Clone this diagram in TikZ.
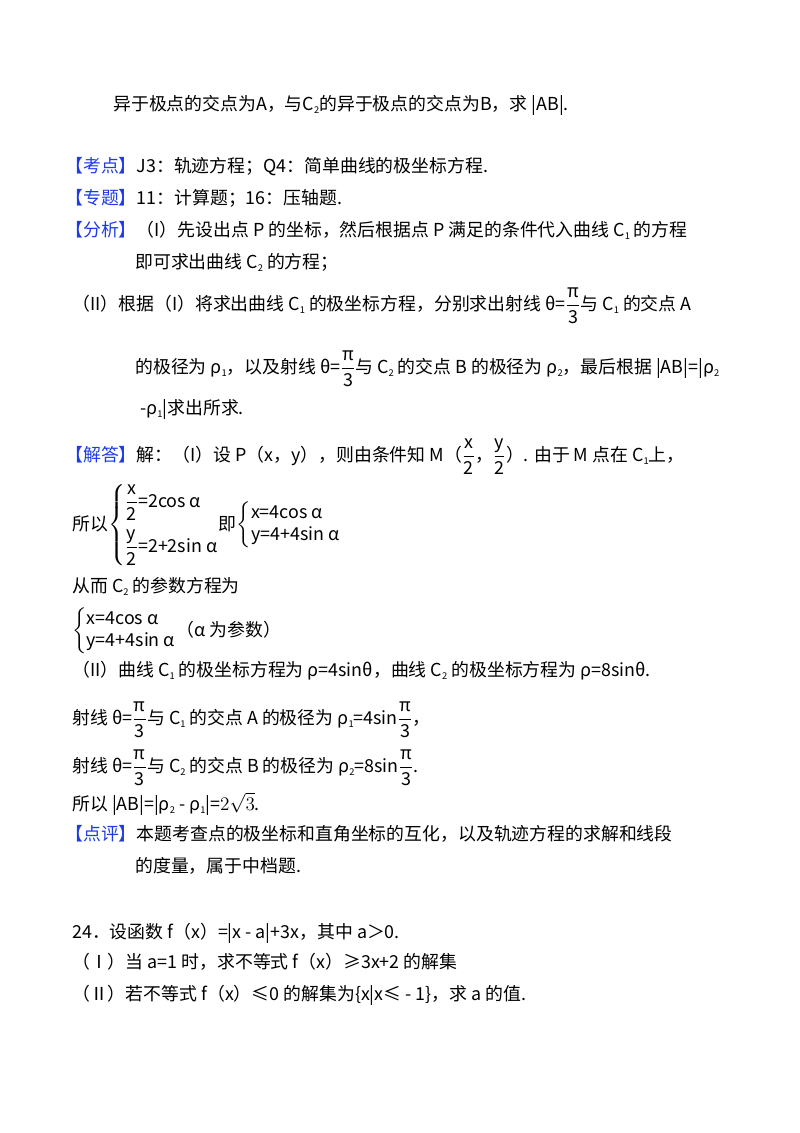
\documentclass[tikz,border=0pt]{standalone}
\usepackage{amsmath}
\usepackage{fontspec}
\setmainfont{Noto Sans CJK SC}
\definecolor{kblue}{RGB}{30,60,230}
\newcommand{\sbt}[1]{\raisebox{-0.35ex}{\scriptsize #1}}
\newcommand{\fr}[2]{$\displaystyle\frac{\hbox{#1}}{\hbox{#2}}$}
\newcommand{\tg}[1]{\textcolor{kblue}{【#1】}}
\begin{document}
\begin{tikzpicture}[x=0.75pt,y=-0.75pt,
  ln/.style={anchor=base west,inner sep=0pt,font=\fontsize{13.4}{16}\selectfont}]
\useasboundingbox (0,0) rectangle (800,1133);
\fill[white] (0,0) rectangle (800,1133);
\node[ln] (l1) at (113,110) {异于极点的交点为A，与C\sbt{2}的异于极点的交点为B，求 |AB|.};
\node[ln] (l2) at (65,172) {\tg{考点}J3：轨迹方程；Q4：简单曲线的极坐标方程.};
\node[ln] (l3) at (65,204) {\tg{专题}11：计算题；16：压轴题.};
\node[ln] (l4) at (65,236) {\tg{分析}（I）先设出点 P 的坐标，然后根据点 P 满足的条件代入曲线 C\sbt{1} 的方程};
\node[ln] (l5) at (135,268) {即可求出曲线 C\sbt{2} 的方程；};
\node[ln] (l6) at (72,310) {（II）根据（I）将求出曲线 C\sbt{1} 的极坐标方程，分别求出射线 θ=\fr{π}{3}与 C\sbt{1} 的交点 A};
\node[ln] (l7) at (135,373) {的极径为 ρ\sbt{1}，以及射线 θ=\fr{π}{3}与 C\sbt{2} 的交点 B 的极径为 ρ\sbt{2}，最后根据 |AB|=|ρ\sbt{2}};
\node[ln] (l8) at (140,414) {-ρ\sbt{1}|求出所求.};
\node[ln] (l9) at (65,461) {\tg{解答}解：（I）设 P（x，y），则由条件知 M（\fr{x}{2}，\fr{y}{2}）. 由于 M 点在 C\sbt{1}上，};
\node[ln] (l10) at (72,530) {所以$\left\{\begin{array}{@{}l@{}}\displaystyle\frac{\hbox{x}}{\hbox{2}}\hbox{=2cos α}\\[12pt]\displaystyle\frac{\hbox{y}}{\hbox{2}}\hbox{=2+2sin α}\end{array}\right.$即$\left\{\begin{array}{@{}l@{}}\hbox{x=4cos α}\\\hbox{y=4+4sin α}\end{array}\right.$};
\node[ln] (l11) at (72,592) {从而 C\sbt{2} 的参数方程为};
\node[ln] (l12) at (72,636) {$\left\{\begin{array}{@{}l@{}}\hbox{x=4cos α}\\\hbox{y=4+4sin α}\end{array}\right.$（α 为参数）};
\node[ln] (l13) at (72,676) {（II）曲线 C\sbt{1} 的极坐标方程为 ρ=4sinθ，曲线 C\sbt{2} 的极坐标方程为 ρ=8sinθ.};
\node[ln] (l14) at (72,724) {射线 θ=\fr{π}{3}与 C\sbt{1} 的交点 A 的极径为 ρ\sbt{1}=4sin\fr{π}{3}，};
\node[ln] (l15) at (72,772) {射线 θ=\fr{π}{3}与 C\sbt{2} 的交点 B 的极径为 ρ\sbt{2}=8sin\fr{π}{3}.};
\node[ln] (l16) at (72,810) {所以 |AB|=|ρ\sbt{2} - ρ\sbt{1}|=$2\sqrt{3}$.};
\node[ln] (l17) at (65,840) {\tg{点评}本题考查点的极坐标和直角坐标的互化，以及轨迹方程的求解和线段};
\node[ln] (l18) at (135,872) {的度量，属于中档题.};
\node[ln] (l19) at (72,938) {24．设函数 f（x）=|x - a|+3x，其中 a＞0.};
\node[ln] (l20) at (72,968) {（Ⅰ）当 a=1 时，求不等式 f（x）≥3x+2 的解集};
\node[ln] (l21) at (72,1000) {（Ⅱ）若不等式 f（x）≤0 的解集为\{x|x≤ - 1\}，求 a 的值.};
\end{tikzpicture}
\end{document}
